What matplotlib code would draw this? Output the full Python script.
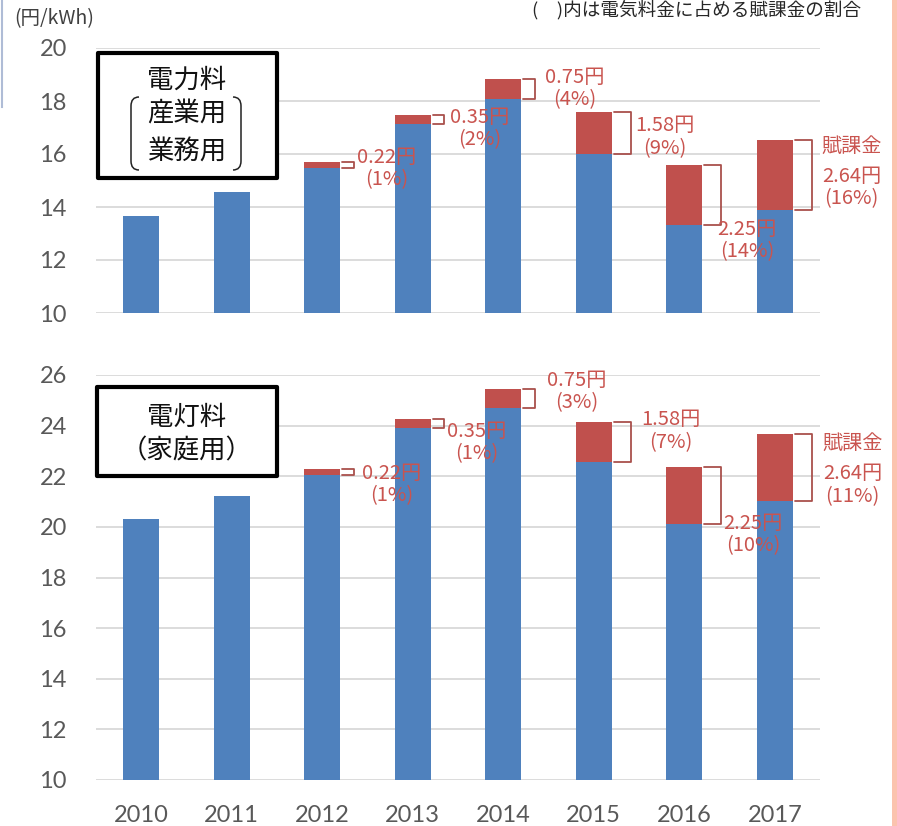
import matplotlib
matplotlib.use("Agg")
import matplotlib.pyplot as plt
from matplotlib.patches import Rectangle, PathPatch
from matplotlib.path import Path
from matplotlib.lines import Line2D
import numpy as np

plt.rcParams['font.family'] = ['Noto Sans CJK JP', 'DejaVu Sans']

# ---------------- data ----------------
years = ['2010', '2011', '2012', '2013', '2014', '2015', '2016', '2017']
levy = [0, 0, 0.22, 0.35, 0.75, 1.58, 2.25, 2.64]           # 賦課金 (円/kWh)
industrial_base = [13.65, 14.57, 15.48, 17.12, 18.08, 16.00, 13.32, 13.89]
industrial_share = ['', '', '1%', '2%', '4%', '9%', '14%', '16%']
household_base = [20.33, 21.22, 22.06, 23.90, 24.69, 22.56, 20.12, 21.02]
household_share = ['', '', '1%', '1%', '3%', '7%', '10%', '11%']
top_ticks = [10, 12, 14, 16, 18, 20]
bottom_ticks = [10, 12, 14, 16, 18, 20, 22, 24, 26]

# ---------------- style ----------------
W, H = 897, 826
BLUE = '#4F81BD'
RED = '#C0504D'
LABEL_C = '#C9544F'
BRACKET_C = '#A9504C'
GRID_C = '#D9D9D9'
TICK_C = '#595959'

# label offsets (pixels) relative to bracket: (dx, dy downward)
top_offsets = {2: (3, 3.6), 3: (6, 9.3), 4: (10, 0), 5: (4, 4), 6: (-4, 45), 7: (10, 12.6)}
bot_offsets = {2: (8, 13), 3: (3, 18.5), 4: (12, -7), 5: (10, -11), 6: (2, 39.6), 7: (11, 17.4)}
top_kaf = (10, -29)
bot_kaf = (11, -24.6)

fig = plt.figure(figsize=(W / 100, H / 100), dpi=100)


def fx(px):
    return px / W


def fy(py):
    return 1 - py / H


def make_axes(top_px, bot_px):
    return fig.add_axes([fx(96), fy(bot_px), (820 - 96) / W, (bot_px - top_px) / H])


ax_top = make_axes(48, 313)
ax_bot = make_axes(375, 780)


def draw_panel(ax, base, shares, ylim, ticks, offsets, kaf, show_x):
    x = np.arange(len(years))
    ax.bar(x, base, width=0.4, color=BLUE, zorder=2, linewidth=0)
    ax.bar(x, levy, width=0.4, bottom=base, color=RED, zorder=2, linewidth=0)
    ax.set_xlim(-0.5, len(years) - 0.5)
    ax.set_ylim(*ylim)
    ax.set_yticks(ticks)
    ax.yaxis.grid(True, color=GRID_C, linewidth=1.3, zorder=0)
    ax.set_axisbelow(True)
    for s in ax.spines.values():
        s.set_visible(False)
    ax.tick_params(axis='y', length=0, pad=21, labelsize=17, labelcolor=TICK_C)
    ax.tick_params(axis='x', length=0, pad=18, labelsize=17, labelcolor=TICK_C)
    for lab in ax.get_yticklabels():
        lab.set_fontfamily(['Lato', 'DejaVu Sans'])
    ax.set_xticks(x)
    if show_x:
        ax.set_xticklabels(years, fontfamily=['Lato', 'DejaVu Sans'])
    else:
        ax.set_xticklabels([])

    for i in x:
        if levy[i] <= 0:
            continue
        y0 = base[i]
        y1 = base[i] + levy[i]
        xl = i + 0.22
        xr = xl + (0.13 if levy[i] < 1 else 0.19)
        ax.plot([xl, xr, xr, xl], [y1, y1, y0, y0], color=BRACKET_C, lw=1.3,
                solid_joinstyle='round', solid_capstyle='round', clip_on=False, zorder=4)
        dx, dy = offsets[i]
        txt = f"{levy[i]:.2f}円\n({shares[i]})"
        ax.annotate(txt, xy=(xr, (y0 + y1) / 2), xytext=(dx * 0.72, -dy * 0.72),
                    textcoords='offset points', ha='left', va='center',
                    multialignment='center', fontsize=14.5, color=LABEL_C,
                    linespacing=1.08, zorder=5, annotation_clip=False)
        if i == len(years) - 1:
            ax.annotate('賦課金', xy=(xr, (y0 + y1) / 2), xytext=(kaf[0] * 0.72, -kaf[1] * 0.72),
                        textcoords='offset points', ha='left', va='center',
                        fontsize=14.5, color=LABEL_C, zorder=5, annotation_clip=False)


draw_panel(ax_top, industrial_base, industrial_share, (10, 20), top_ticks, top_offsets, top_kaf, False)
draw_panel(ax_bot, household_base, household_share, (10, 26), bottom_ticks, bot_offsets, bot_kaf, True)

# ---------------- boxes ----------------
def box(x0, y0, x1, y1):
    r = Rectangle((fx(x0), fy(y1)), (x1 - x0) / W, (y1 - y0) / H, transform=fig.transFigure,
                  facecolor='white', edgecolor='black', linewidth=3.0, zorder=10,
                  joinstyle='round')
    fig.add_artist(r)


box(98, 53, 277, 178)
box(97, 387, 277, 476)

fig.text(fx(187), fy(80), '電力料', ha='center', va='center', fontsize=19, color='#111111', zorder=11)
fig.text(fx(187), fy(114), '産業用', ha='center', va='center', fontsize=19, color='#111111', zorder=11)
fig.text(fx(187), fy(152), '業務用', ha='center', va='center', fontsize=19, color='#111111', zorder=11)
fig.text(fx(187), fy(417), '電灯料', ha='center', va='center', fontsize=19, color='#111111', zorder=11)
fig.text(fx(187), fy(451), '（家庭用）', ha='center', va='center', fontsize=19, color='#111111', zorder=11)


def paren(xo, xi, ytop, ybot):
    verts = [(fx(xi), fy(ytop)), (fx(xo), fy(ytop)), (fx(xo), fy(ytop + 9)),
             (fx(xo), fy(ybot - 9)), (fx(xo), fy(ybot)), (fx(xi), fy(ybot))]
    codes = [Path.MOVETO, Path.CURVE3, Path.CURVE3, Path.LINETO, Path.CURVE3, Path.CURVE3]
    p = PathPatch(Path(verts, codes), transform=fig.transFigure, fill=False,
                  edgecolor='#222222', linewidth=1.1, zorder=11)
    fig.add_artist(p)


paren(131, 139, 97, 170)
paren(241, 233, 97, 170)

# ---------------- header texts ----------------
fig.text(fx(14), fy(19), '(円/kWh)', ha='left', va='center', fontsize=14, color='#404040')
fig.text(fx(532), fy(10), '(\u3000)内は電気料金に占める賦課金の割合', ha='left', va='center',
         fontsize=13.4, color='#262626')

# frame decorations
fig.add_artist(Line2D([fx(1.5), fx(1.5)], [fy(0), fy(107)], transform=fig.transFigure,
                      color='#AFBCD6', linewidth=1.5))
fig.add_artist(Rectangle((fx(892), 0), 5 / W, 1, transform=fig.transFigure,
                         facecolor='#FBC3AE', edgecolor='none', zorder=1))

fig.savefig('out.png', dpi=100)
